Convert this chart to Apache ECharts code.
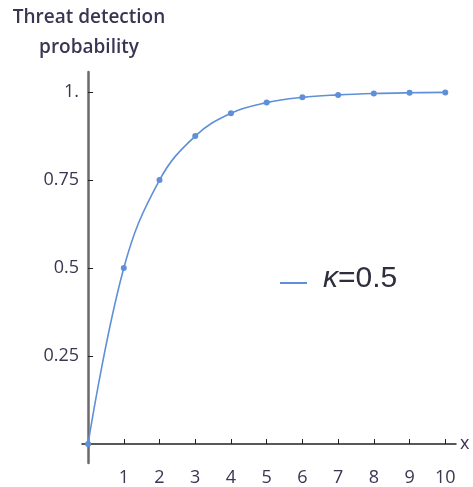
<!DOCTYPE html>
<html>
<head>
<meta charset="utf-8">
<script src="https://cdn.jsdelivr.net/npm/echarts@6/dist/echarts.min.js"></script>
<style>
  html, body { margin: 0; padding: 0; background: #fff; }
  #chart { width: 473px; height: 487px; }
</style>
</head>
<body>
<div id="chart"></div>
<script>
  // values
  const xValues = [0, 1, 2, 3, 4, 5, 6, 7, 8, 9, 10];
  const detectProb = [0, 0.5, 0.75, 0.875, 0.94, 0.97, 0.985, 0.992, 0.996, 0.998, 0.999];
  const xTicks = [1, 2, 3, 4, 5, 6, 7, 8, 9, 10];
  const yTicks = [0.25, 0.5, 0.75, 1];
  const seriesName = 'kappa';

  const labelColor = '#3a3552';
  const lineColor = '#5f8fd8';
  const tickFont = 'Open Sans';

  const chart = echarts.init(document.getElementById('chart'));

  const option = {
    animation: false,
    title: {
      text: 'Threat detection\nprobability',
      left: 89,
      top: 3,
      textAlign: 'center',
      padding: 0,
      textStyle: {
        fontFamily: 'Open Sans',
        fontSize: 19,
        fontWeight: 600,
        color: labelColor,
        lineHeight: 30,
      },
    },
    grid: { left: 82, right: 17, top: 72, bottom: 7, containLabel: false },
    legend: {
      data: [seriesName],
      left: 280,
      top: 264,
      padding: 0,
      icon: 'rect',
      itemWidth: 27,
      itemHeight: 2,
      formatter: () => '{k|κ}=0.5',
      textStyle: {
        fontFamily: 'Liberation Sans',
        fontSize: 30,
        color: '#2e2e3e',
        padding: [0, 0, 8, 11],
        rich: {
          k: { fontFamily: 'Liberation Sans', fontSize: 30, fontStyle: 'italic', color: '#2e2e3e' },
        },
      },
    },
    xAxis: {
      type: 'value',
      min: -0.17,
      max: 10.3,
      name: 'x',
      nameLocation: 'end',
      nameGap: 4,
      nameTextStyle: { fontFamily: tickFont, fontSize: 18, fontWeight: 500, color: labelColor, verticalAlign: 'middle' },
      splitLine: { show: false },
      axisLine: { onZero: true, lineStyle: { color: '#222', width: 1.5 } },
      axisTick: { inside: true, length: 5, customValues: xTicks, lineStyle: { color: '#222' } },
      axisLabel: {
        customValues: xTicks,
        margin: 6,
        fontFamily: tickFont,
        fontSize: 18,
        fontWeight: 500,
        color: labelColor,
      },
    },
    yAxis: {
      type: 'value',
      min: -0.054,
      max: 1.057,
      splitLine: { show: false },
      axisLine: { onZero: true, lineStyle: { color: '#6a6a6a', width: 2.5 } },
      axisTick: { inside: true, length: 5, customValues: yTicks, lineStyle: { color: '#222' } },
      axisLabel: {
        customValues: yTicks,
        margin: 3,
        fontFamily: tickFont,
        fontSize: 18,
        fontWeight: 500,
        color: labelColor,
        formatter: (v) => (v === 1 ? '1.' : String(v)),
      },
    },
    series: [
      {
        name: seriesName,
        type: 'line',
        data: xValues.map((x, i) => [x, detectProb[i]]),
        smooth: 0.4,
        symbol: 'circle',
        symbolSize: 6,
        showSymbol: true,
        lineStyle: { color: lineColor, width: 1.6 },
        itemStyle: { color: lineColor },
        z: 3,
      },
    ],
  };

  chart.setOption(option);
</script>
</body>
</html>
